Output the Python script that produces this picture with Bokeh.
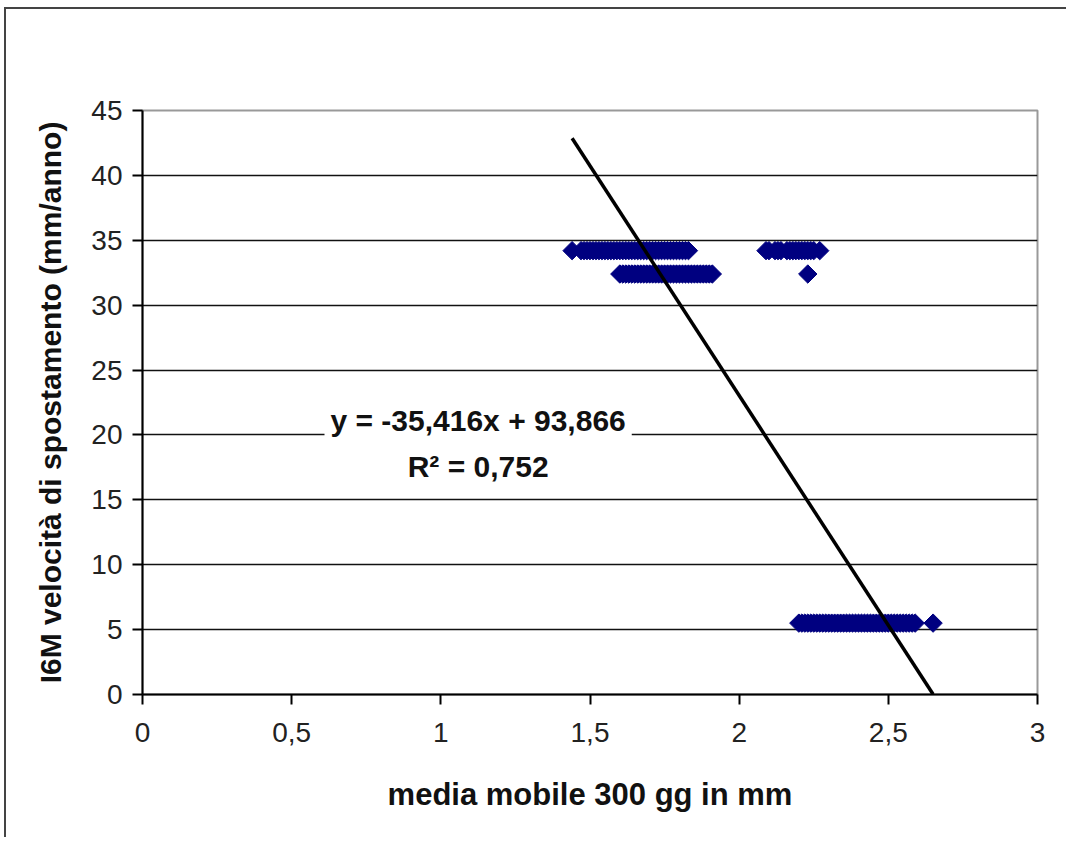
import math
from bokeh.plotting import figure
from bokeh.models import FixedTicker, Label, ColumnDataSource, InlineStyleSheet
from bokeh.embed import file_html
from bokeh.resources import INLINE

# --- data ---
x_upper = [1.44, 1.47, 1.48, 1.49, 1.50, 1.51, 1.52, 1.53, 1.54, 1.55, 1.56, 1.57,
           1.58, 1.59, 1.60, 1.61, 1.62, 1.63, 1.64, 1.65, 1.66, 1.67, 1.68, 1.69,
           1.70, 1.71, 1.72, 1.73, 1.74, 1.75, 1.76, 1.77, 1.78, 1.79, 1.80, 1.81,
           1.82, 1.83,
           2.09, 2.10, 2.12, 2.13, 2.14, 2.16, 2.17, 2.18, 2.19, 2.20, 2.21, 2.22,
           2.23, 2.24, 2.25, 2.27]
y_upper = 34.2
x_middle = [1.60, 1.61, 1.62, 1.63, 1.64, 1.65, 1.66, 1.67, 1.68, 1.69, 1.70, 1.71,
            1.72, 1.73, 1.74, 1.75, 1.76, 1.77, 1.78, 1.79, 1.80, 1.81, 1.82, 1.83,
            1.84, 1.85, 1.86, 1.87, 1.88, 1.89, 1.90, 1.91, 2.23]
y_middle = 32.4
x_lower = [2.20, 2.21, 2.22, 2.23, 2.24, 2.25, 2.26, 2.27, 2.28, 2.29, 2.30, 2.31,
           2.32, 2.33, 2.34, 2.35, 2.36, 2.37, 2.38, 2.39, 2.40, 2.41, 2.42, 2.43,
           2.44, 2.45, 2.46, 2.47, 2.48, 2.49, 2.50, 2.51, 2.52, 2.53, 2.54, 2.55,
           2.56, 2.57, 2.58, 2.59, 2.65]
y_lower = 5.5

slope = -35.416
intercept = 93.866
r2 = 0.752

x_ticks = [0, 0.5, 1, 1.5, 2, 2.5, 3]
x_tick_labels = ["0", "0,5", "1", "1,5", "2", "2,5", "3"]
y_ticks = [0, 5, 10, 15, 20, 25, 30, 35, 40, 45]

xs = x_upper + x_middle + x_lower
ys = [y_upper] * len(x_upper) + [y_middle] * len(x_middle) + [y_lower] * len(x_lower)
src = ColumnDataSource(dict(x=xs, y=ys))

FONT = "Liberation Sans"

p = figure(width=1062, height=830, x_range=(0, 3), y_range=(0, 45),
           output_backend="svg", toolbar_location=None,
           min_border_left=136, min_border_right=31, min_border_top=101,
           min_border_bottom=145)
p.styles = {"margin-left": "4px", "margin-top": "7px"}
p.stylesheets = [InlineStyleSheet(css=":host { border-left: 2px solid #444; border-top: 2px solid #444; }")]

p.outline_line_color = "#999999"
p.outline_line_width = 2
p.xgrid.grid_line_color = None
p.ygrid.grid_line_color = "#111111"
p.ygrid.grid_line_width = 1.6

p.xaxis.ticker = FixedTicker(ticks=x_ticks)
p.xaxis.major_label_overrides = {t: l for t, l in zip(x_ticks, x_tick_labels)}
p.yaxis.ticker = FixedTicker(ticks=y_ticks)

for ax in (p.xaxis, p.yaxis):
    ax.axis_line_color = "black"
    ax.axis_line_width = 2
    ax.major_tick_line_color = "black"
    ax.major_tick_line_width = 2
    ax.minor_tick_line_color = None
    ax.major_tick_in = 0
    ax.major_tick_out = 10
    ax.major_label_text_font = FONT
    ax.major_label_text_font_size = "28px"
    ax.major_label_text_color = "#222222"
    ax.axis_label_text_font = FONT
    ax.axis_label_text_font_style = "bold"
    ax.axis_label_text_color = "#111111"

p.xaxis.axis_label_text_font_size = "31px"
p.yaxis.axis_label_text_font_size = "30px"
p.xaxis.major_label_standoff = 18
p.yaxis.major_label_standoff = 10
p.xaxis.axis_label = "media mobile 300 gg in mm"
p.yaxis.axis_label = "I6M velocità di spostamento (mm/anno)"
p.xaxis.axis_label_standoff = 32
p.yaxis.axis_label_standoff = 21

p.scatter("x", "y", source=src, marker="square", size=13, angle=math.pi / 4,
          fill_color="#000080", line_color="#000080", line_width=1)

x0, x1 = min(xs), max(xs)
p.line([x0, x1], [slope * x0 + intercept, slope * x1 + intercept],
       line_color="black", line_width=3.5)

eq = "y = " + f"{slope:.3f}".replace(".", ",") + "x + " + f"{intercept:.3f}".replace(".", ",")
lab1 = Label(x=1.125, y=21.1, text=eq, text_align="center",
             text_baseline="middle", text_font=FONT, text_font_style="bold",
             text_font_size="30px", text_color="#111111",
             background_fill_color="white", padding=6)
lab2 = Label(x=1.125, y=17.6, text="R² = " + f"{r2:.3f}".replace(".", ","),
             text_align="center", text_baseline="middle", text_font=FONT,
             text_font_style="bold", text_font_size="30px", text_color="#111111")
p.add_layout(lab1)
p.add_layout(lab2)

open("out.html", "w").write(file_html(p, INLINE))
